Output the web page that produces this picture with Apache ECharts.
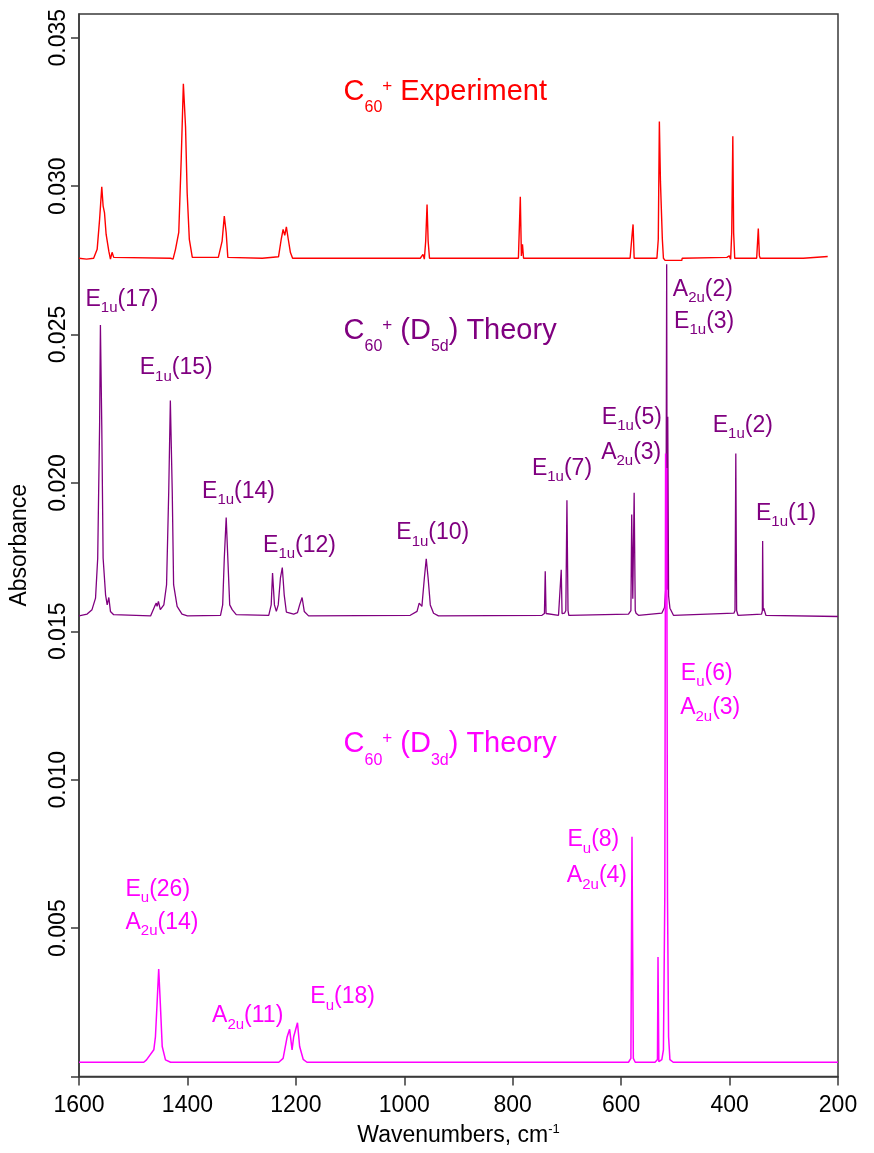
<!DOCTYPE html>
<html>
<head>
<meta charset="utf-8">
<script src="https://cdn.jsdelivr.net/npm/echarts@6/dist/echarts.min.js"></script>
<style>
  html, body { margin: 0; padding: 0; background: #fff; }
  #chart { width: 874px; height: 1153px; }
</style>
</head>
<body>
<div id="chart"></div>
<script>
const FONT = "'Liberation Sans', Arial, sans-serif";

// axis ticks
const xTicks = [1600, 1400, 1200, 1000, 800, 600, 400, 200];
const yTicks = [0, 0.005, 0.010, 0.015, 0.020, 0.025, 0.030, 0.035];

// C60+ experiment (red)
const expWave = [1600, 1586, 1573, 1566.5, 1562, 1558, 1555.5, 1553, 1550, 1545, 1542, 1539, 1536,
  1431, 1426.5, 1422, 1416, 1411.5, 1407.5, 1403.5, 1400.5, 1396.5, 1391,
  1343, 1340.5, 1336, 1332, 1328.5, 1325.5, 1262, 1260,
  1232, 1227, 1223.5, 1220.5, 1217.5, 1214, 1210, 1206,
  970.5, 965.5, 963, 960.5, 958, 956, 953.5,
  789.5, 786, 784, 782, 780,
  583.5, 581.5, 579.5, 578, 576,
  534, 531.5, 529.5, 527.5, 525.5, 524, 522, 519, 488, 487.5,
  405, 400.5, 398, 396, 394, 392.5, 390.5,
  350, 347, 345, 343.5, 264, 262.5, 219];
const expAbs = [0.02757, 0.02754, 0.02757, 0.02787, 0.02888, 0.02998, 0.02933, 0.02911, 0.02838, 0.02781, 0.02754, 0.02777, 0.02760,
  0.02757, 0.02754, 0.02787, 0.02844, 0.03089, 0.03345, 0.03201, 0.02978, 0.02821, 0.02760,
  0.02760, 0.02760, 0.02815, 0.02899, 0.02843, 0.02760, 0.02757, 0.02762,
  0.02762, 0.02821, 0.02854, 0.02834, 0.02863, 0.02821, 0.02776, 0.02757,
  0.02757, 0.02770, 0.02754, 0.02815, 0.02938, 0.02815, 0.02757,
  0.02757, 0.02964, 0.02765, 0.02804, 0.02757,
  0.02757, 0.02754, 0.02843, 0.02871, 0.02757,
  0.02757, 0.02821, 0.03218, 0.03016, 0.03022, 0.02821, 0.02757, 0.02750, 0.02750, 0.02757,
  0.02760, 0.02765, 0.02754, 0.02843, 0.03168, 0.02843, 0.02757,
  0.02757, 0.02857, 0.02765, 0.02757, 0.02757, 0.02763, 0.02763];

// C60+ (D5d) theory (purple)
const d5dWave = [1600, 1585, 1576, 1569.5, 1565.5, 1562, 1560.5, 1558, 1555.5, 1551, 1548, 1545, 1542, 1536,
  1468, 1465, 1460.5, 1457.5, 1456, 1453.5, 1450, 1443.5, 1438.5, 1434.5, 1431.5, 1428, 1425.5, 1419, 1410, 1400,
  1339, 1335, 1332, 1328.5, 1325.5, 1322, 1317.5, 1314.5, 1310,
  1250, 1245.5, 1243, 1239.5, 1236, 1232.5, 1228.5, 1225, 1221.5, 1217.5, 1204, 1197, 1193, 1188.5, 1184.5, 1176.5,
  989, 976.5, 972.5, 967.5, 963, 959.5, 956, 952, 946, 937,
  746, 741.5, 740, 738.5, 737, 715.5, 712, 710.5, 709, 707.5, 704.5, 702, 700, 698, 696.5,
  586.5, 582, 580.5, 578.5, 576, 574, 572.5, 568,
  525, 522, 520, 517.5, 516, 515, 514, 512.5, 510, 503.5,
  392, 390, 388.5, 387, 384.5,
  341, 339.5, 339, 338, 337, 335, 333, 200];
const d5dAbs = [0.01552, 0.01558, 0.01573, 0.01612, 0.01746, 0.02194, 0.02532, 0.02194, 0.01746, 0.01623, 0.01589, 0.01614, 0.01567, 0.01556,
  0.01552, 0.01554, 0.01584, 0.01595, 0.01584, 0.01601, 0.01573, 0.01589, 0.01657, 0.01970, 0.02278, 0.01970, 0.01657, 0.01584, 0.01558, 0.01552,
  0.01554, 0.01589, 0.01746, 0.01883, 0.01746, 0.01589, 0.01573, 0.01578, 0.01556,
  0.01554, 0.01589, 0.01696, 0.01589, 0.01567, 0.01589, 0.01679, 0.01715, 0.01623, 0.01565, 0.01558, 0.01563, 0.01589, 0.01614, 0.01567, 0.01552,
  0.01554, 0.01567, 0.01595, 0.01584, 0.01679, 0.01744, 0.01679, 0.01589, 0.01561, 0.01552,
  0.01554, 0.01560, 0.01702, 0.01560, 0.01554, 0.01554, 0.01560, 0.01707, 0.01560, 0.01554, 0.01561, 0.01570, 0.01942, 0.01570, 0.01554,
  0.01558, 0.01570, 0.01894, 0.01610, 0.01967, 0.01570, 0.01561, 0.01554,
  0.01561, 0.01567, 0.01580, 0.01650, 0.02737, 0.01640, 0.02223, 0.01620, 0.01578, 0.01554,
  0.01561, 0.01570, 0.02099, 0.01570, 0.01554,
  0.01558, 0.01570, 0.01804, 0.01570, 0.01578, 0.01584, 0.01554, 0.01550];

// C60+ (D3d) theory (magenta)
const d3dWave = [1600, 1480.5, 1475.5, 1462, 1459, 1456, 1453, 1450, 1446.5, 1440.5, 1431,
  1231.5, 1223.5, 1216, 1211.5, 1207, 1204, 1197, 1193, 1186.5, 1179.5,
  586.5, 582, 580, 577.5, 574,
  537.5, 533, 532, 530.5, 525, 522, 519.5, 518, 517, 516, 514.5, 512.5, 510, 504, 200];
const d3dAbs = [0.00048, 0.00048, 0.00056, 0.00090, 0.00134, 0.00246, 0.00362, 0.00246, 0.00101, 0.00056, 0.00048,
  0.00048, 0.00061, 0.00134, 0.00159, 0.00090, 0.00134, 0.00181, 0.00101, 0.00058, 0.00048,
  0.00048, 0.00061, 0.00808, 0.00061, 0.00048,
  0.00048, 0.00057, 0.00403, 0.00050, 0.00057, 0.00090, 0.00604, 0.02099, 0.01900, 0.02050, 0.00604, 0.00134, 0.00057, 0.00048, 0.00048];

// band labels: [rich text, wavenumber, absorbance at text baseline, is title]
const expNotes = [
  ['{m|C}{s|60}{p|+}{m| Experiment}', 1112, 0.03285, true]
];
const d5dNotes = [
  ['{m|C}{s|60}{p|+}{m| (D}{s|5d}{m|) Theory}', 1112, 0.02479, true],
  ['{m|E}{s|1u}{m|(17)}', 1588, 0.02591],
  ['{m|E}{s|1u}{m|(15)}', 1488, 0.02360],
  ['{m|E}{s|1u}{m|(14)}', 1373, 0.01945],
  ['{m|E}{s|1u}{m|(12)}', 1260.5, 0.01763],
  ['{m|E}{s|1u}{m|(10)}', 1014.7, 0.01804],
  ['{m|E}{s|1u}{m|(7)}', 764.6, 0.02021],
  ['{m|E}{s|1u}{m|(5)}', 635.6, 0.02194],
  ['{m|A}{s|2u}{m|(3)}', 636.9, 0.02076],
  ['{m|A}{s|2u}{m|(2)}', 504.7, 0.02625],
  ['{m|E}{s|1u}{m|(3)}', 502.3, 0.02516],
  ['{m|E}{s|1u}{m|(2)}', 431, 0.02166],
  ['{m|E}{s|1u}{m|(1)}', 351.2, 0.01869]
];
const d3dNotes = [
  ['{m|C}{s|60}{p|+}{m| (D}{s|3d}{m|) Theory}', 1112, 0.01086, true],
  ['{m|E}{s|u}{m|(26)}', 1514.3, 0.00604],
  ['{m|A}{s|2u}{m|(14)}', 1514.3, 0.00493],
  ['{m|A}{s|2u}{m|(11)}', 1354.5, 0.00177],
  ['{m|E}{s|u}{m|(18)}', 1173.3, 0.00241],
  ['{m|E}{s|u}{m|(6)}', 489.9, 0.01332],
  ['{m|A}{s|2u}{m|(3)}', 491.2, 0.01215],
  ['{m|E}{s|u}{m|(8)}', 699, 0.00770],
  ['{m|A}{s|2u}{m|(4)}', 700.1, 0.00649]
];

const RED = '#ff0000';
const PURPLE = '#800080';
const MAGENTA = '#ff00ff';
const AXIS = '#3a3a3a';

const zip = (w, a) => w.map((x, i) => [x, a[i]]);

const lineSeries = (name, data, color, width) => ({
  name, type: 'line', data,
  showSymbol: false, symbol: 'none',
  lineStyle: { color, width },
  itemStyle: { color },
  animation: false, silent: true
});

const option = {
  animation: false,
  grid: { left: 78.5, right: 36, top: 14, bottom: 73, show: true, borderColor: AXIS, borderWidth: 1.5 },
  xAxis: {
    type: 'value', min: 200, max: 1600, interval: 200, inverse: true,
    name: '{a|Wavenumbers, cm}{s|-1}', nameLocation: 'middle', nameGap: 45,
    nameTextStyle: {
      rich: {
        a: { fontSize: 23, fontFamily: FONT, color: '#000', lineHeight: 28 },
        s: { fontSize: 13, fontFamily: FONT, color: '#000', lineHeight: 28, padding: [0, 0, 12, 0] }
      }
    },
    axisLine: { lineStyle: { color: AXIS, width: 1.5 } },
    axisTick: { inside: false, length: 9, lineStyle: { color: AXIS, width: 1.5 }, customValues: xTicks },
    axisLabel: {
      fontSize: 23, fontFamily: FONT, color: '#000', margin: 18,
      customValues: xTicks, formatter: v => String(v)
    },
    splitLine: { show: false }
  },
  yAxis: {
    type: 'value', min: 0, max: 0.0358, interval: 0.005,
    name: 'Absorbance', nameLocation: 'middle', nameGap: 47,
    nameTextStyle: { fontSize: 23, fontFamily: FONT, color: '#000', lineHeight: 24 },
    axisLine: { show: true, lineStyle: { color: AXIS, width: 1.5 } },
    axisTick: { inside: false, length: 8, lineStyle: { color: AXIS, width: 1.5 }, customValues: yTicks },
    axisLabel: {
      fontSize: 23, fontFamily: FONT, color: '#000', rotate: 90, margin: 9,
      customValues: yTicks.filter(v => v > 0),
      formatter: v => v.toFixed(3)
    },
    splitLine: { show: false }
  },
  series: [
    lineSeries('C60+ Experiment', zip(expWave, expAbs), RED, 1.4),
    lineSeries('C60+ (D5d) Theory', zip(d5dWave, d5dAbs), PURPLE, 1.3),
    lineSeries('C60+ (D3d) Theory', zip(d3dWave, d3dAbs), MAGENTA, 1.5)
  ]
};

const chart = echarts.init(document.getElementById('chart'));
chart.setOption(option);

function richFor(color, title) {
  if (title) {
    return {
      m: { fontSize: 29, fontFamily: FONT, fill: color, lineHeight: 40 },
      s: { fontSize: 16, fontFamily: FONT, fill: color, lineHeight: 40, padding: [32, 0, 0, 0] },
      p: { fontSize: 17, fontFamily: FONT, fill: color, lineHeight: 40, padding: [0, 0, 11, 0] }
    };
  }
  return {
    m: { fontSize: 23, fontFamily: FONT, fill: color, lineHeight: 30 },
    s: { fontSize: 15, fontFamily: FONT, fill: color, lineHeight: 30, padding: [17, 0, 0, 0] }
  };
}

function noteElements(notes, color) {
  return notes.map(n => {
    const title = !!n[3];
    const p = chart.convertToPixel({ seriesIndex: 0 }, [n[1], n[2]]);
    return {
      type: 'text', silent: true,
      x: p[0], y: p[1] - (title ? 10 : 8),
      style: {
        text: n[0], fill: color, align: 'left', verticalAlign: 'middle',
        fontSize: title ? 29 : 23, fontFamily: FONT,
        rich: richFor(color, title)
      }
    };
  });
}

chart.setOption({
  graphic: [].concat(
    noteElements(expNotes, RED),
    noteElements(d5dNotes, PURPLE),
    noteElements(d3dNotes, MAGENTA)
  )
});
</script>
</body>
</html>
